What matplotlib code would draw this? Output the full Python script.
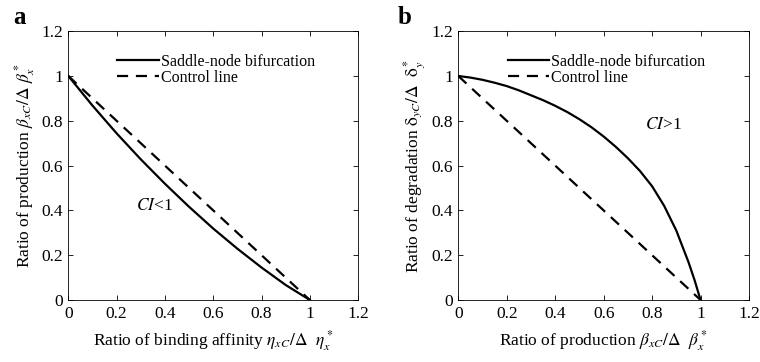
import matplotlib
matplotlib.use('Agg')
import matplotlib.pyplot as plt
from matplotlib.ticker import FormatStrFormatter

plt.rcParams['font.family'] = ['Liberation Serif', 'DejaVu Serif']
plt.rcParams['mathtext.fontset'] = 'stix'
plt.rcParams['font.size'] = 11

# Panel a: binding affinity vs production
a_x = [0, 0.1, 0.2, 0.3, 0.4, 0.5, 0.6, 0.7, 0.8, 0.9, 1.0]
a_saddle = [1, 0.868, 0.744, 0.628, 0.519, 0.416, 0.319, 0.229, 0.145, 0.067, 0]
a_control = [1, 0.9, 0.8, 0.7, 0.6, 0.5, 0.4, 0.3, 0.2, 0.1, 0]

# Panel b: production vs degradation
b_x = [0, 0.05, 0.1, 0.15, 0.2, 0.25, 0.3, 0.35, 0.4, 0.45, 0.5, 0.55,
       0.6, 0.65, 0.7, 0.75, 0.8, 0.85, 0.9, 0.95, 0.975, 1.0]
b_saddle = [1, 0.993, 0.983, 0.97, 0.955, 0.936, 0.914, 0.892, 0.867, 0.839,
            0.807, 0.771, 0.73, 0.684, 0.633, 0.576, 0.508, 0.42, 0.31, 0.17,
            0.09, 0]
b_control = [1, 0.95, 0.9, 0.85, 0.8, 0.75, 0.7, 0.65, 0.6, 0.55, 0.5, 0.45,
             0.4, 0.35, 0.3, 0.25, 0.2, 0.15, 0.1, 0.05, 0.025, 0]

ticks = [0, 0.2, 0.4, 0.6, 0.8, 1, 1.2]

fig = plt.figure(figsize=(7.6, 3.62), dpi=100)
ax1 = fig.add_axes([0.0899, 0.1713, 0.3813, 0.7425])
ax2 = fig.add_axes([0.603, 0.1713, 0.3825, 0.7425])

panels = [
    (ax1, a_x, a_saddle, a_control,
     r'Ratio of binding affinity $\eta_{xC}/\Delta\ \ \eta^*_x$',
     r'Ratio of production $\beta_{xC}/\Delta\ \beta^*_x$',
     r'$CI$<1', (0.28, 0.42), 'a', 0.017),
    (ax2, b_x, b_saddle, b_control,
     r'Ratio of production $\beta_{xC}/\Delta\ \ \beta^*_x$',
     r'Ratio of degradation $\mathrm{\delta}_{yC}/\Delta\ \ \mathrm{\delta}^*_y$',
     r'$CI$>1', (0.77, 0.78), 'b', 0.523),
]

for ax, x, sn, ctrl, xl, yl, note, pos, letter, lx in panels:
    ax.plot(x, sn, color='black', lw=1.6, label='Saddle-node bifurcation')
    ax.plot(x, ctrl, color='black', lw=1.6, dashes=(5, 3.5), label='Control line')
    ax.set_xlim(0, 1.2)
    ax.set_ylim(0, 1.2)
    ax.set_xticks(ticks)
    ax.set_yticks(ticks)
    ax.xaxis.set_major_formatter(FormatStrFormatter('%g'))
    ax.yaxis.set_major_formatter(FormatStrFormatter('%g'))
    ax.tick_params(direction='in', top=True, right=True, length=3.5,
                   width=0.6, labelsize=12.5, pad=4)
    for s in ax.spines.values():
        s.set_linewidth(0.6)
    ax.set_xlabel(xl, fontsize=12.5, labelpad=5)
    ax.set_ylabel(yl, fontsize=12.5, labelpad=3)
    ax.text(pos[0], pos[1], note, fontsize=12.5, va='center')
    ax.legend(loc='upper left', bbox_to_anchor=(0.12, 0.97), frameon=False,
              fontsize=11.5, handlelength=2.6, handletextpad=0.1,
              labelspacing=0.0)
    fig.text(lx, 1 - 18 / 362, letter, fontsize=18, fontweight='bold',
             va='center')

fig.savefig('out.png', dpi=100)
